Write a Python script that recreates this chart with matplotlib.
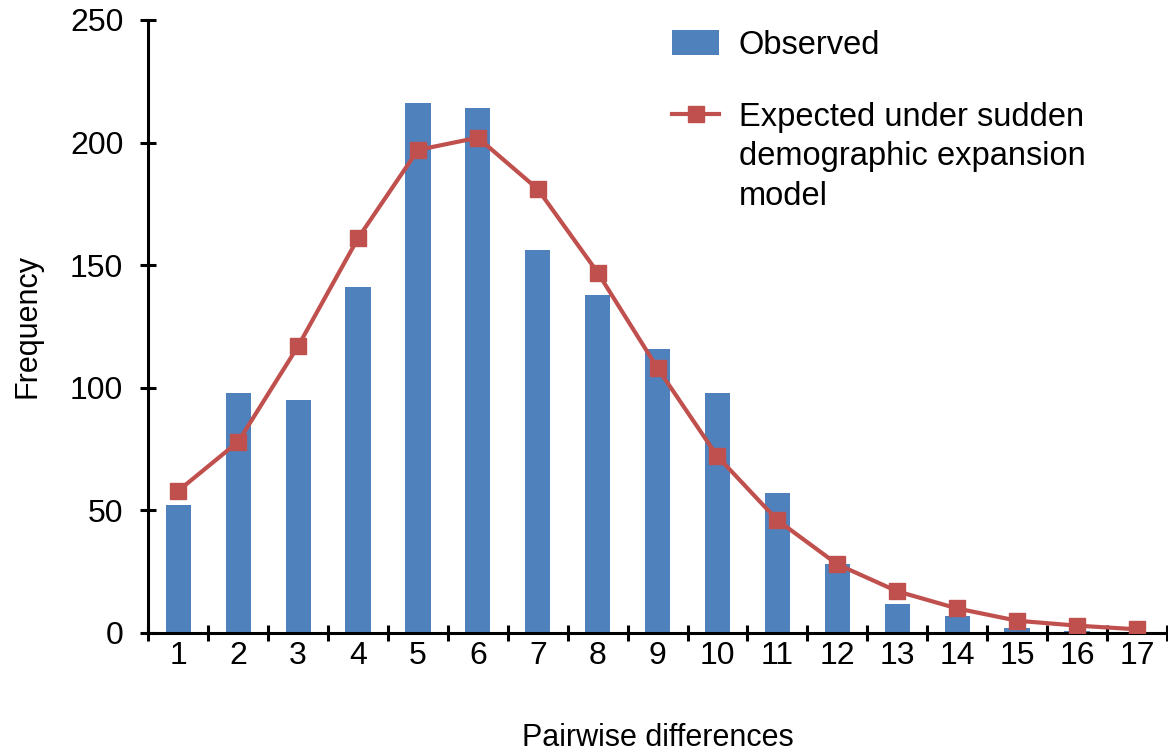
import matplotlib
matplotlib.use("Agg")
import matplotlib.pyplot as plt
import numpy as np

BLUE, RED, INK = "#4f81bd", "#c0504d", "#000000"

diffs = list(range(1, 18))
observed = [52, 98, 95, 141, 216, 214, 156, 138, 116, 98, 57, 28, 12, 7, 2, 1, 0]
expected = [58, 78, 117, 161, 197, 202, 181, 147, 108, 72, 46, 28, 17, 10, 5, 3, 1.5]

plt.rcParams["font.family"] = ["Liberation Sans", "DejaVu Sans"]

fig = plt.figure(figsize=(11.68, 7.54), dpi=100)
ax = fig.add_axes([0.127, 0.1605, 0.872, 0.813])

bars = ax.bar(diffs, observed, width=0.42, color=BLUE, label="Observed", zorder=2)
line, = ax.plot(diffs, expected, color=RED, lw=3, marker="s", ms=12, zorder=3,
                label="Expected under sudden\ndemographic expansion\nmodel")

ax.set_xlim(0.5, 17.5)
ax.set_ylim(0, 250)
ax.set_yticks(np.arange(0, 251, 50))
ax.set_xticks(diffs)
ax.set_xticks(np.arange(0.5, 17.6, 1), minor=True)

for sp in ("top", "right"):
    ax.spines[sp].set_visible(False)
for sp in ("left", "bottom"):
    ax.spines[sp].set_linewidth(2.2)
    ax.spines[sp].set_color(INK)

ax.tick_params(axis="y", direction="inout", length=12, width=2.2,
               labelsize=23, pad=12)
ax.tick_params(axis="x", which="major", length=0, labelsize=23, pad=6)
ax.tick_params(axis="x", which="minor", direction="inout", length=12, width=2.2)

ax.set_ylabel("Frequency", fontsize=22, labelpad=20)
ax.set_xlabel("Pairwise differences", fontsize=22, labelpad=37)

leg = ax.legend(handles=[bars, line], loc="upper left",
                bbox_to_anchor=(672 / 1168, 1 - 30 / 754),
                bbox_transform=fig.transFigure, frameon=False, fontsize=23.5,
                handlelength=1.45, handleheight=0.8, labelspacing=1.25,
                handletextpad=0.6, borderpad=0, borderaxespad=0)
# put the handle next to the first line of a multi-line label
for col in leg._legend_handle_box.get_children():
    for row in col.get_children():
        row.align = "top"
leg.get_texts()[1].set_linespacing(1.35)

fig.savefig("out.png", dpi=100)
